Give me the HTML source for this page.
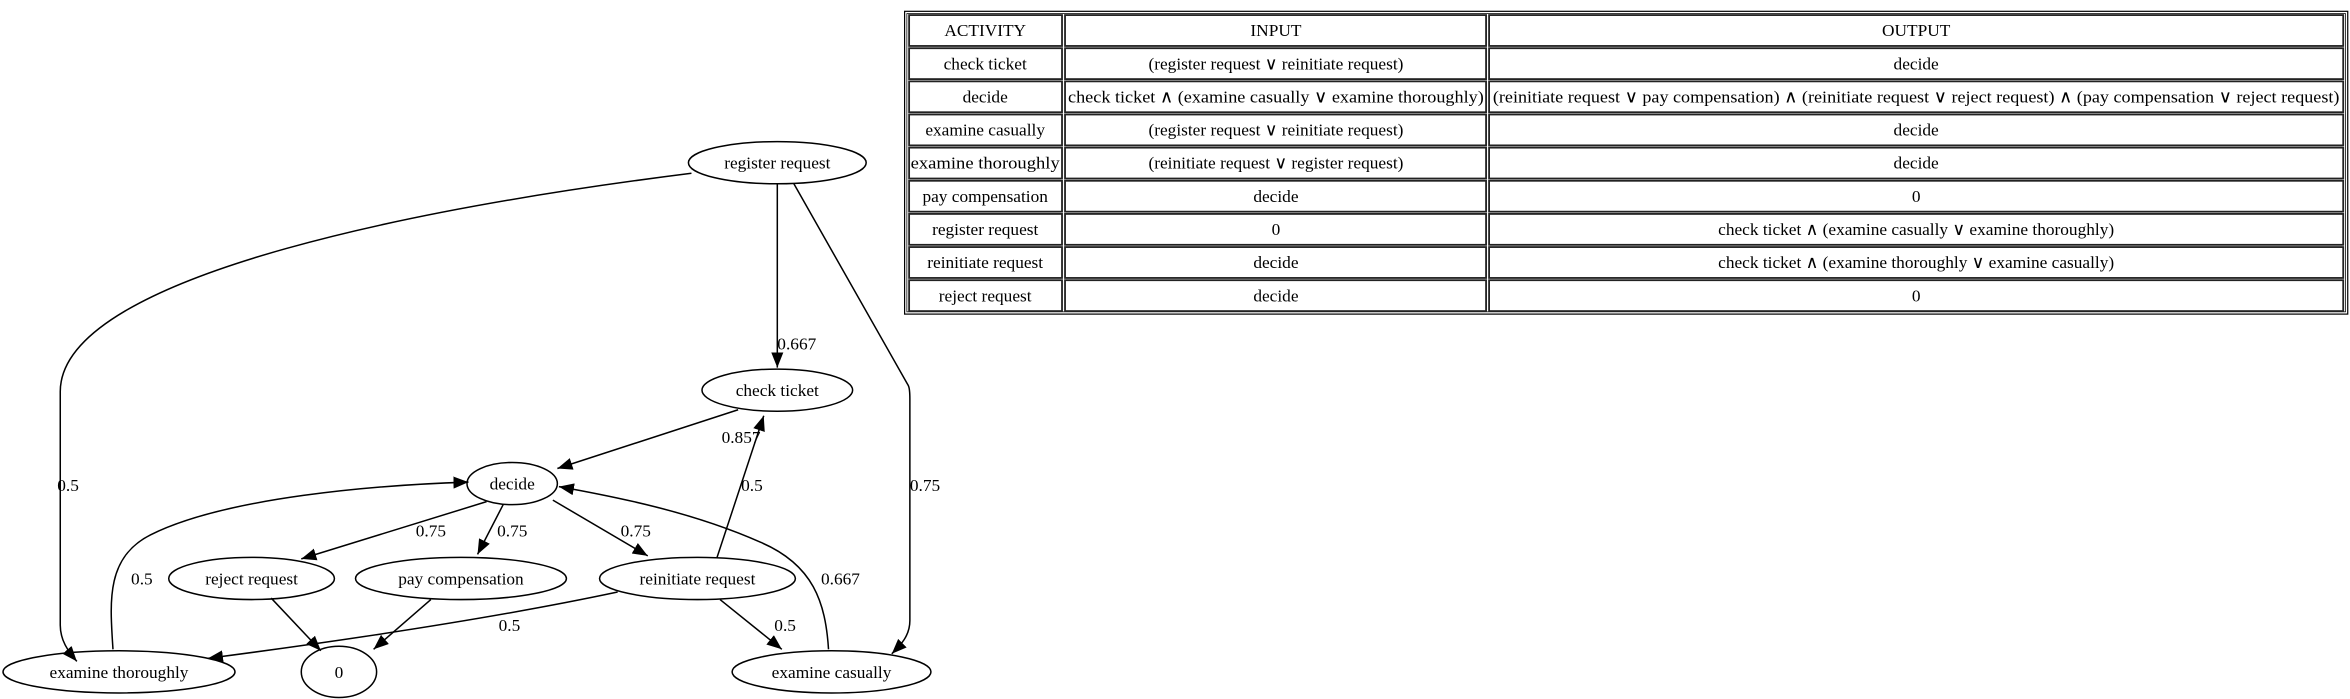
<!DOCTYPE html>
<html><head><meta charset="utf-8"><style>
html,body{margin:0;padding:0;background:#fff;}
svg{display:block;}
text{font-family:"Liberation Serif",serif;font-size:11.5px;fill:#000;}
</style></head><body>
<svg width="2350" height="699" viewBox="0 0 1560 464" xmlns="http://www.w3.org/2000/svg">
<defs>
<marker id="a" markerUnits="userSpaceOnUse" markerWidth="12" markerHeight="10" refX="10" refY="4" orient="auto">
<path d="M0,0 L10,4 L0,8 Z" fill="#000"/>
</marker>
</defs>
<rect width="1560" height="464" fill="#fff"/>
<g fill="none" stroke="#000" stroke-width="1">
<path d="M459,115 C300,135 40,180 40,260 L40,415 C40,425 45,432 51,439" marker-end="url(#a)"/>
<path d="M516,122 L516,244" marker-end="url(#a)"/>
<path d="M527,122 L603,256 C604,258 604,262 604,265 L604,412 C604,422 598,428 592,434" marker-end="url(#a)"/>
<path d="M490,272 L370,311" marker-end="url(#a)"/>
<path d="M323,333 L200,371" marker-end="url(#a)"/>
<path d="M334,335 L317,368" marker-end="url(#a)"/>
<path d="M367,332 L430,369" marker-end="url(#a)"/>
<path d="M476,370 L507,276" marker-end="url(#a)"/>
<path d="M410,393 C330,410 230,425 138,437" marker-end="url(#a)"/>
<path d="M478,398 L519,431" marker-end="url(#a)"/>
<path d="M180,397 L213,432" marker-end="url(#a)"/>
<path d="M286,398 L248,431" marker-end="url(#a)"/>
<path d="M75,431 C73,400 70,370 100,355 C150,330 250,322 311,320" marker-end="url(#a)"/>
<path d="M550,431 C548,400 540,375 505,360 C460,340 410,330 371,323" marker-end="url(#a)"/>
<ellipse cx="516" cy="108" rx="59" ry="14"/>
<ellipse cx="516" cy="259" rx="50" ry="14"/>
<ellipse cx="340" cy="321" rx="30" ry="14"/>
<ellipse cx="167" cy="384" rx="55" ry="14"/>
<ellipse cx="306" cy="384" rx="70" ry="14"/>
<ellipse cx="463" cy="384" rx="65" ry="14"/>
<ellipse cx="79" cy="446" rx="77" ry="14"/>
<ellipse cx="225" cy="446" rx="25" ry="17"/>
<ellipse cx="552" cy="446" rx="66" ry="14"/>
</g>
<g text-anchor="middle">
<text x="516" y="112">register request</text>
<text x="516" y="263">check ticket</text>
<text x="340" y="325">decide</text>
<text x="167" y="388">reject request</text>
<text x="306" y="388">pay compensation</text>
<text x="463" y="388">reinitiate request</text>
<text x="79" y="450">examine thoroughly</text>
<text x="225" y="450">0</text>
<text x="552" y="450">examine casually</text>
</g>
<g>
<text x="38" y="326">0.5</text>
<text x="516" y="232">0.667</text>
<text x="604" y="326">0.75</text>
<text x="479" y="294">0.857</text>
<text x="276" y="356">0.75</text>
<text x="330" y="356">0.75</text>
<text x="412" y="356">0.75</text>
<text x="492" y="326">0.5</text>
<text x="331" y="419">0.5</text>
<text x="514" y="419">0.5</text>
<text x="87" y="388">0.5</text>
<text x="545" y="388">0.667</text>
</g>
<g fill="none" stroke="#000" stroke-width="0.8">
<rect x="600.5" y="7.5" width="958" height="201"/>
<rect x="602" y="9" width="955" height="198" stroke-width="0.5"/>
</g>
<g fill="none" stroke="#222" stroke-width="1.2">
<rect x="603.5" y="10" width="101.5" height="20.5"/><rect x="707" y="10" width="279.5" height="20.5"/><rect x="988.5" y="10" width="567" height="20.5"/>
<rect x="603.5" y="32" width="101.5" height="20.5"/><rect x="707" y="32" width="279.5" height="20.5"/><rect x="988.5" y="32" width="567" height="20.5"/>
<rect x="603.5" y="54" width="101.5" height="20.5"/><rect x="707" y="54" width="279.5" height="20.5"/><rect x="988.5" y="54" width="567" height="20.5"/>
<rect x="603.5" y="76" width="101.5" height="20.5"/><rect x="707" y="76" width="279.5" height="20.5"/><rect x="988.5" y="76" width="567" height="20.5"/>
<rect x="603.5" y="98" width="101.5" height="20.5"/><rect x="707" y="98" width="279.5" height="20.5"/><rect x="988.5" y="98" width="567" height="20.5"/>
<rect x="603.5" y="120" width="101.5" height="20.5"/><rect x="707" y="120" width="279.5" height="20.5"/><rect x="988.5" y="120" width="567" height="20.5"/>
<rect x="603.5" y="142" width="101.5" height="20.5"/><rect x="707" y="142" width="279.5" height="20.5"/><rect x="988.5" y="142" width="567" height="20.5"/>
<rect x="603.5" y="164" width="101.5" height="20.5"/><rect x="707" y="164" width="279.5" height="20.5"/><rect x="988.5" y="164" width="567" height="20.5"/>
<rect x="603.5" y="186" width="101.5" height="20.5"/><rect x="707" y="186" width="279.5" height="20.5"/><rect x="988.5" y="186" width="567" height="20.5"/>
</g>
<g text-anchor="middle" style="font-size:11px">
<text x="654" y="24">ACTIVITY</text><text x="847" y="24">INPUT</text><text x="1272" y="24">OUTPUT</text>
<text x="654" y="46">check ticket</text><text x="847" y="46">(register request ∨ reinitiate request)</text><text x="1272" y="46">decide</text>
<text x="654" y="68">decide</text><text x="847" y="68" textLength="276" lengthAdjust="spacingAndGlyphs">check ticket ∧ (examine casually ∨ examine thoroughly)</text><text x="1272" y="68" textLength="562" lengthAdjust="spacingAndGlyphs">(reinitiate request ∨ pay compensation) ∧ (reinitiate request ∨ reject request) ∧ (pay compensation ∨ reject request)</text>
<text x="654" y="90">examine casually</text><text x="847" y="90">(register request ∨ reinitiate request)</text><text x="1272" y="90">decide</text>
<text x="654" y="112" textLength="99" lengthAdjust="spacingAndGlyphs">examine thoroughly</text><text x="847" y="112">(reinitiate request ∨ register request)</text><text x="1272" y="112">decide</text>
<text x="654" y="134">pay compensation</text><text x="847" y="134">decide</text><text x="1272" y="134">0</text>
<text x="654" y="156">register request</text><text x="847" y="156">0</text><text x="1272" y="156">check ticket ∧ (examine casually ∨ examine thoroughly)</text>
<text x="654" y="178">reinitiate request</text><text x="847" y="178">decide</text><text x="1272" y="178">check ticket ∧ (examine thoroughly ∨ examine casually)</text>
<text x="654" y="200">reject request</text><text x="847" y="200">decide</text><text x="1272" y="200">0</text>
</g>
</svg>
</body></html>
